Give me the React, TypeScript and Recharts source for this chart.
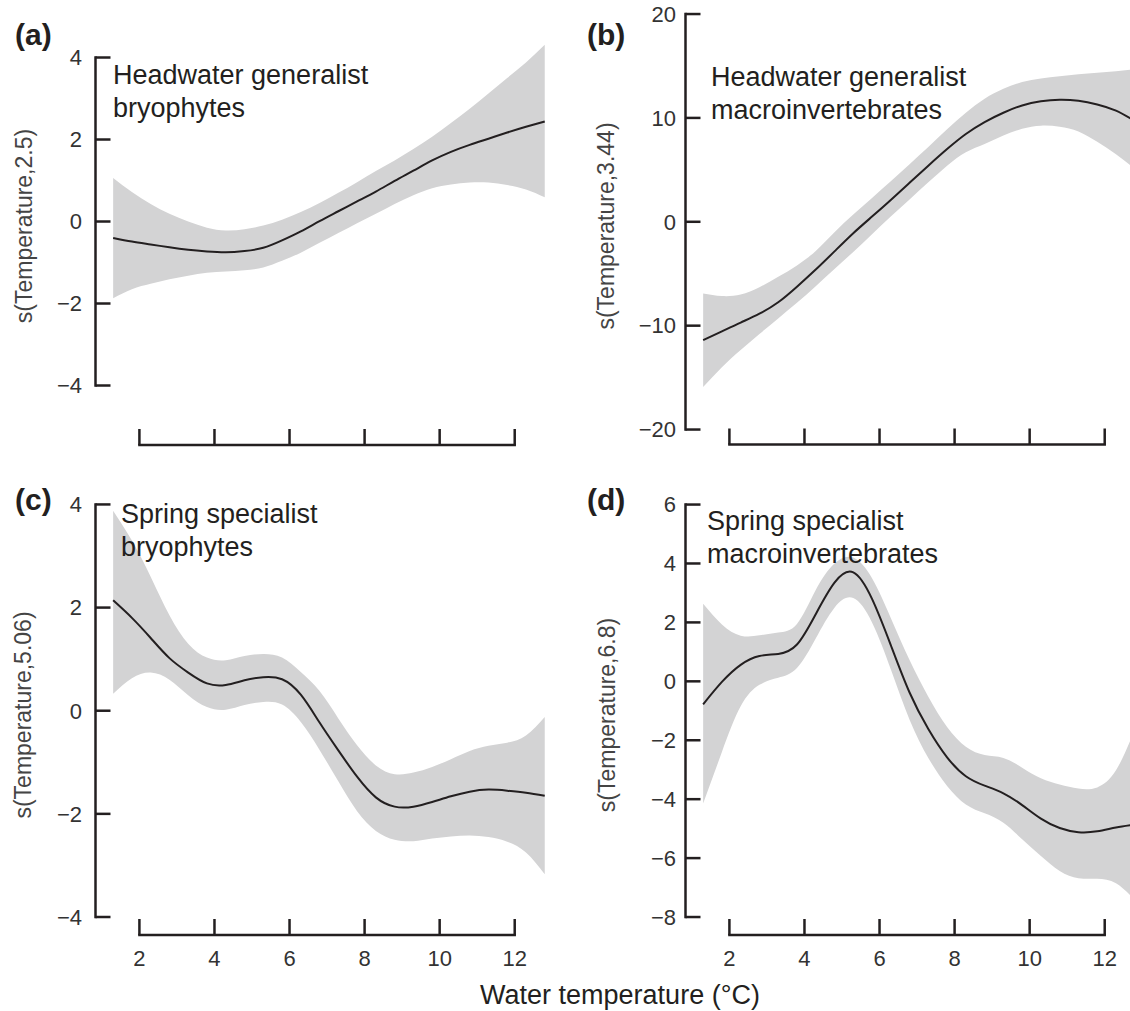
import React from 'react';
import { ComposedChart, Area, Line, XAxis, YAxis, ReferenceLine } from 'recharts';

const FONT = '"Liberation Sans", Arial, Helvetica, sans-serif';
const INK = '#231f20';
const BAND = '#d3d3d4';

// water temperature (°C), same grid for all four panels
const temps = [1.3, 1.8, 2.3, 2.8, 3.3, 3.8, 4.3, 4.8, 5.3, 5.8, 6.3, 6.8, 7.3, 7.8, 8.3, 8.8, 9.3, 9.8, 10.3, 10.8, 11.3, 11.8, 12.3, 12.8];

// (a) headwater generalist bryophytes
const fitA = [-0.4, -0.49, -0.56, -0.63, -0.69, -0.73, -0.75, -0.72, -0.64, -0.46, -0.24, 0.01, 0.25, 0.49, 0.73, 0.99, 1.24, 1.49, 1.7, 1.87, 2.02, 2.17, 2.31, 2.44];
const lowA = [-1.87, -1.65, -1.52, -1.41, -1.32, -1.25, -1.22, -1.19, -1.12, -0.96, -0.76, -0.52, -0.28, -0.04, 0.19, 0.43, 0.64, 0.81, 0.9, 0.95, 0.95, 0.89, 0.78, 0.59];
const highA = [1.06, 0.72, 0.43, 0.19, 0.0, -0.15, -0.22, -0.19, -0.1, 0.04, 0.23, 0.45, 0.7, 0.96, 1.23, 1.49, 1.77, 2.07, 2.4, 2.75, 3.12, 3.5, 3.88, 4.31];

// (b) headwater generalist macroinvertebrates
const fitB = [-11.4, -10.55, -9.7, -8.85, -7.75, -6.25, -4.6, -2.85, -1.1, 0.5, 2.1, 3.75, 5.4, 7.0, 8.45, 9.6, 10.5, 11.2, 11.6, 11.75, 11.65, 11.3, 10.7, 9.7];
const lowB = [-15.9, -14.0, -12.35, -10.8, -9.3, -7.8, -6.2, -4.55, -2.9, -1.2, 0.5, 2.15, 3.8, 5.4, 6.7, 7.5, 8.3, 8.95, 9.25, 9.15, 8.7, 7.7, 6.5, 5.1];
const highB = [-6.9, -7.15, -7.0, -6.3, -5.3, -4.2, -2.8, -1.0, 0.7, 2.3, 3.9, 5.55, 7.2, 8.9, 10.5, 11.85, 12.8, 13.45, 13.8, 14.0, 14.2, 14.35, 14.5, 14.7];

// (c) spring specialist bryophytes
const fitC = [2.14, 1.8, 1.41, 1.02, 0.74, 0.53, 0.5, 0.59, 0.65, 0.61, 0.31, -0.23, -0.77, -1.28, -1.68, -1.86, -1.86, -1.77, -1.66, -1.57, -1.53, -1.55, -1.59, -1.65];
const lowC = [0.33, 0.63, 0.74, 0.6, 0.3, 0.07, 0.02, 0.11, 0.17, 0.12, -0.22, -0.76, -1.37, -1.95, -2.33, -2.5, -2.53, -2.48, -2.44, -2.42, -2.45, -2.54, -2.75, -3.17];
const highC = [3.88, 3.3, 2.6, 1.85, 1.3, 1.03, 0.98, 1.06, 1.1, 1.03, 0.75, 0.38, -0.15, -0.67, -1.06, -1.23, -1.2, -1.09, -0.94, -0.78, -0.68, -0.62, -0.48, -0.12];

// (d) spring specialist macroinvertebrates
const fitD = [-0.78, -0.02, 0.56, 0.86, 0.93, 1.25, 2.28, 3.35, 3.7, 2.8, 1.23, -0.38, -1.62, -2.58, -3.22, -3.54, -3.8, -4.2, -4.66, -4.98, -5.12, -5.09, -4.96, -4.86];
const lowD = [-4.15, -2.4, -0.85, -0.12, 0.12, 0.45, 1.45, 2.5, 2.83, 2.0, 0.41, -1.3, -2.6, -3.55, -4.18, -4.48, -4.8, -5.36, -5.93, -6.44, -6.68, -6.7, -6.85, -7.42];
const highD = [2.63, 1.93, 1.55, 1.56, 1.66, 1.95, 3.1, 4.0, 4.2, 3.5, 2.15, 0.72, -0.52, -1.55, -2.22, -2.5, -2.6, -2.93, -3.29, -3.5, -3.64, -3.6, -3.02, -1.65];

const xTicks = [2, 4, 6, 8, 10, 12];
const yTicksA = [-4, -2, 0, 2, 4];
const yTicksB = [-20, -10, 0, 10, 20];
const yTicksC = [-4, -2, 0, 2, 4];
const yTicksD = [-8, -6, -4, -2, 0, 2, 4, 6];

const X_DOMAIN: [number, number] = [0.83, 13.3];
const PLOT_W = 468;
const X_AXIS_H = 60;
const PAD_TOP = 12;

const fmt = (v: number) => String(v).replace('-', '\u2212');

interface PanelProps {
  fit: number[];
  low: number[];
  high: number[];
  yDomain: [number, number];
  yTicks: number[];
  left: number;
  top: number;
  axisWidth: number;
  plotHeight: number;
  xLabels: boolean;
  labelGap: number;
}

function Panel({ fit, low, high, yDomain, yTicks, left, top, axisWidth, plotHeight, xLabels, labelGap }: PanelProps) {
  const data = temps.map((t, i) => ({ t, fit: fit[i], band: [low[i], high[i]] }));
  const tickStyle = { fill: '#333', fontSize: 22, fontFamily: FONT };
  return (
    <div style={{ position: 'absolute', left, top: top - PAD_TOP }}>
      <ComposedChart
        width={axisWidth + PLOT_W}
        height={PAD_TOP + plotHeight + X_AXIS_H}
        data={data}
        margin={{ top: PAD_TOP, right: 0, bottom: 0, left: 0 }}
      >
        <XAxis
          dataKey="t"
          type="number"
          domain={X_DOMAIN}
          ticks={xTicks}
          allowDataOverflow
          interval={0}
          height={X_AXIS_H}
          axisLine={false}
          tickSize={-16}
          tickMargin={31}
          tickLine={{ stroke: INK, strokeWidth: 2.5 }}
          tick={tickStyle}
          tickFormatter={xLabels ? fmt : () => ''}
        />
        <YAxis
          type="number"
          domain={yDomain}
          ticks={yTicks}
          allowDataOverflow
          interval={0}
          width={axisWidth}
          axisLine={false}
          tickSize={-15}
          tickMargin={15 + labelGap}
          tickLine={{ stroke: INK, strokeWidth: 2.5 }}
          tick={tickStyle}
          tickFormatter={fmt}
        />
        <Area dataKey="band" type="natural" stroke="none" fill={BAND} fillOpacity={1} isAnimationActive={false} />
        <Line dataKey="fit" type="natural" stroke={INK} strokeWidth={2} dot={false} activeDot={false} isAnimationActive={false} />
        <ReferenceLine
          segment={[{ x: X_DOMAIN[0], y: yTicks[0] }, { x: X_DOMAIN[0], y: yTicks[yTicks.length - 1] }]}
          stroke={INK}
          strokeWidth={2.5}
          strokeLinecap="square"
          ifOverflow="visible"
        />
        <ReferenceLine
          segment={[{ x: xTicks[0], y: yDomain[0] }, { x: xTicks[xTicks.length - 1], y: yDomain[0] }]}
          stroke={INK}
          strokeWidth={2.5}
          strokeLinecap="square"
          ifOverflow="visible"
        />
      </ComposedChart>
    </div>
  );
}

const tag: React.CSSProperties = { position: 'absolute', fontSize: 30, fontWeight: 700, lineHeight: 1, color: INK };
const note: React.CSSProperties = { position: 'absolute', fontSize: 27, lineHeight: '33px', color: INK, whiteSpace: 'nowrap' };
const ytitle: React.CSSProperties = {
  position: 'absolute',
  fontSize: 23,
  lineHeight: 1,
  color: '#444',
  whiteSpace: 'nowrap',
  transform: 'translate(-50%, -50%) rotate(-90deg)'
};

export default function App() {
  return (
    <div style={{ position: 'absolute', left: 0, top: 0, width: 1130, height: 1011, overflow: 'hidden', background: '#fff', fontFamily: FONT }}>
      <Panel fit={fitA} low={lowA} high={highA} yDomain={[-5.451, 4.427]} yTicks={yTicksA}
        left={0} top={40} axisWidth={95.5} plotHeight={405} xLabels={false} labelGap={13.5} />
      <Panel fit={fitB} low={lowB} high={highB} yDomain={[-21.44, 20.87]} yTicks={yTicksB}
        left={565} top={5} axisWidth={120.5} plotHeight={439.5} xLabels={false} labelGap={9.5} />
      <Panel fit={fitC} low={lowC} high={highC} yDomain={[-4.349, 4.28]} yTicks={yTicksC}
        left={0} top={490} axisWidth={95.5} plotHeight={445} xLabels={true} labelGap={13.5} />
      <Panel fit={fitD} low={lowD} high={highD} yDomain={[-8.61, 6.494]} yTicks={yTicksD}
        left={565} top={490} axisWidth={120.5} plotHeight={445} xLabels={true} labelGap={9.5} />

      <div style={{ ...tag, left: 15, top: 20 }}>(a)</div>
      <div style={{ ...tag, left: 587, top: 20 }}>(b)</div>
      <div style={{ ...tag, left: 15, top: 485 }}>(c)</div>
      <div style={{ ...tag, left: 587, top: 485 }}>(d)</div>

      <div style={{ ...note, left: 113, top: 59 }}>Headwater generalist<br />bryophytes</div>
      <div style={{ ...note, left: 711, top: 61 }}>Headwater generalist<br />macroinvertebrates</div>
      <div style={{ ...note, left: 121, top: 498 }}>Spring specialist<br />bryophytes</div>
      <div style={{ ...note, left: 707, top: 505 }}>Spring specialist<br />macroinvertebrates</div>

      <div style={{ ...ytitle, left: 24, top: 226 }}>s(Temperature,2.5)</div>
      <div style={{ ...ytitle, left: 606, top: 226 }}>s(Temperature,3.44)</div>
      <div style={{ ...ytitle, left: 23, top: 715 }}>s(Temperature,5.06)</div>
      <div style={{ ...ytitle, left: 607, top: 715 }}>s(Temperature,6.8)</div>

      <div style={{ position: 'absolute', left: 620, top: 982, transform: 'translateX(-50%)', fontSize: 27, lineHeight: 1, color: INK, whiteSpace: 'nowrap' }}>
        Water temperature (°C)
      </div>
    </div>
  );
}
